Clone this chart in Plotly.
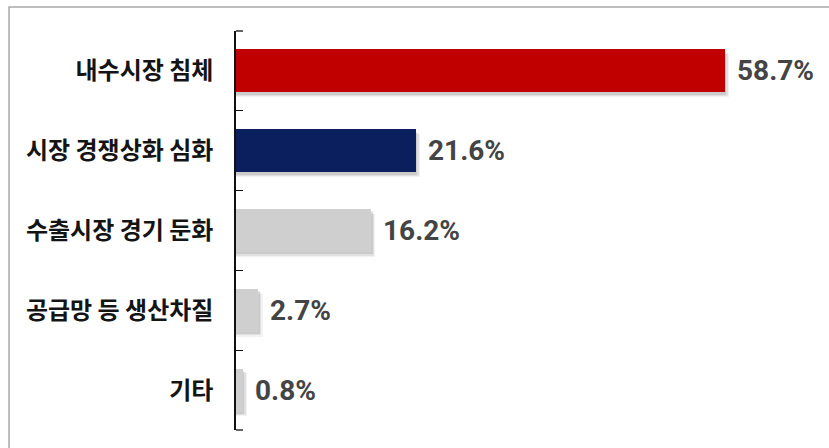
import plotly.graph_objects as go

categories = ["내수시장 침체", "시장 경쟁상화 심화", "수출시장 경기 둔화", "공급망 등 생산차질", "기타"]
values = [58.7, 21.6, 16.2, 2.7, 0.8]
colors = ["#C00000", "#0B1F5E", "#D0CFCF", "#D0CFCF", "#D0CFCF"]
value_labels = [f"{v:.1f}%" for v in values]

BAR_W = 0.54
TICKLEN = 7
PLOT_W = 829 - 236 - 27

fig = go.Figure()

# soft drop shadow (layered translucent bars)
for dx, dy, a in [(0.55, 0.06, 0.05), (0.35, 0.045, 0.07), (0.2, 0.03, 0.09)]:
    fig.add_trace(go.Bar(
        y=categories, x=[v + dx for v in values], orientation="h",
        width=BAR_W, offset=-BAR_W / 2 + dy,
        marker=dict(color=f"rgba(0,0,0,{a})", line=dict(width=0)),
        hoverinfo="skip", showlegend=False,
    ))

fig.add_trace(go.Bar(
    y=categories, x=values, orientation="h",
    width=BAR_W, offset=-BAR_W / 2,
    marker=dict(color=colors, line=dict(width=0)),
    showlegend=False,
))

for c, v, t in zip(categories, values, value_labels):
    fig.add_annotation(
        x=v, y=c, text=t, showarrow=False, xanchor="left", yanchor="middle",
        xshift=10, yshift=0,
        font=dict(family="Roboto", size=28, color="#444444", weight="bold"),
    )

# end ticks of the category axis (top and bottom boundaries)
for yp in (0, 1):
    fig.add_shape(type="line", xref="paper", yref="paper",
                  x0=0, x1=TICKLEN / PLOT_W, y0=yp, y1=yp,
                  line=dict(color="#111111", width=1.3))

# outer frame (left and top edges visible)
fig.add_shape(type="rect", xref="paper", yref="paper",
              x0=-0.401, x1=1.3, y0=-0.3, y1=1.06,
              line=dict(color="#A8A8A8", width=1.5), layer="below")

fig.update_layout(
    width=829, height=448,
    margin=dict(l=236, r=27, t=31, b=18, autoexpand=False),
    paper_bgcolor="white", plot_bgcolor="white",
    barmode="overlay", bargap=0,
    xaxis=dict(range=[0, 68], visible=False, showgrid=False, zeroline=False),
    yaxis=dict(
        autorange="reversed", tickson="boundaries", ticks="inside", ticklen=TICKLEN,
        tickwidth=1.3, tickcolor="#111111", showline=True, linecolor="#111111",
        linewidth=1.5, showgrid=False, ticklabelstandoff=16, automargin=False,
        tickfont=dict(family="Noto Sans CJK KR", size=24, color="#141414", weight="bold"),
    ),
)

fig.write_html("out.html", config={"displayModeBar": False},
               post_script="document.body.style.margin='0';document.body.style.overflow='hidden';")
